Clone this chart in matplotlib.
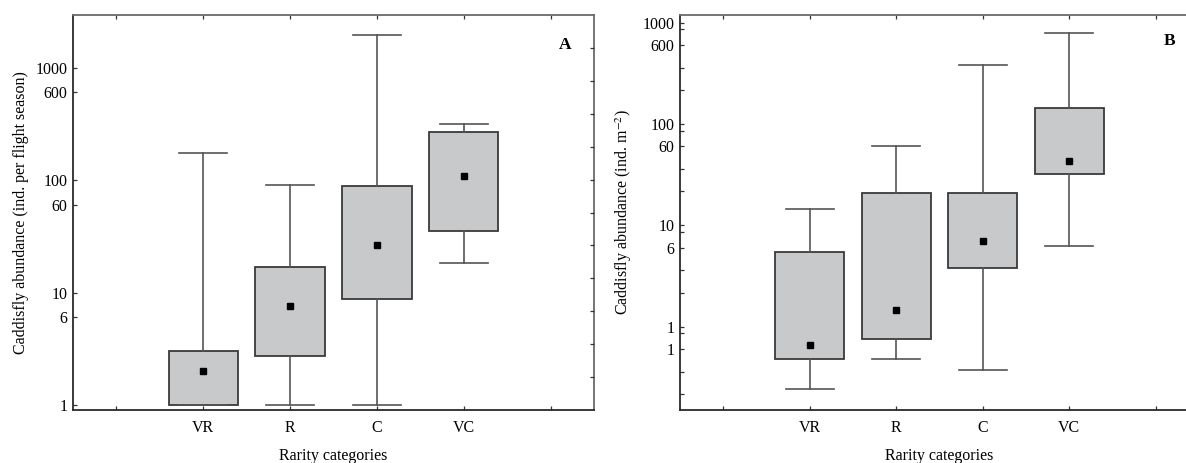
import matplotlib
matplotlib.use("Agg")
import matplotlib.pyplot as plt
from matplotlib.ticker import FixedLocator, NullLocator

plt.rcParams["font.family"] = ["Liberation Serif", "DejaVu Serif"]
plt.rcParams["mathtext.fontset"] = "stix"

CATEGORIES = ["VR", "R", "C", "VC"]

# panel A: ind. per flight season
A_WHISK_LO = [1.0, 1.0, 1.0, 18.3]
A_Q1 = [1.0, 2.74, 8.75, 35.0]
A_MID = [2.0, 7.6, 26.3, 109.0]
A_Q3 = [3.0, 17.0, 88.5, 267.0]
A_WHISK_HI = [173.0, 90.0, 1945.0, 313.0]

# panel B: ind. m-2
B_WHISK_LO = [0.241, 0.477, 0.374, 6.3]
B_Q1 = [0.477, 0.75, 3.77, 31.8]
B_MID = [0.66, 1.45, 7.0, 42.8]
B_Q3 = [5.42, 20.7, 20.7, 142.6]
B_WHISK_HI = [14.4, 60.5, 381.0, 794.0]

A_TICKS = [1000, 600, 100, 60, 10, 6, 1]
A_TICKLABELS = ["1000", "600", "100", "60", "10", "6", "1"]
B_TICKS = [1000, 600, 100, 60, 10, 6, 1, 0.6]
B_TICKLABELS = ["1000", "600", "100", "60", "10", "6", "1", "1"]
B_MINOR = [860, 360, 216, 86, 36, 21.6, 8.6, 3.6, 2.16, 0.86, 0.36, 0.216]

FS = 11.5
BOX_FACE = "#c8c9cb"
EDGE = "#3a3a3a"
WHISK = "#555555"


def make_stats(lo, q1, mid, q3, hi):
    stats = []
    for i in range(len(lo)):
        stats.append({"whislo": lo[i], "q1": q1[i], "med": mid[i],
                      "mean": mid[i], "q3": q3[i], "whishi": hi[i],
                      "fliers": []})
    return stats


def draw_panel(ax, stats, ylim, ticks, ticklabels, ylabel, letter,
               letter_xy, ylabel_x):
    ax.set_yscale("log")
    ax.bxp(stats, positions=[1, 2, 3, 4], widths=0.8, capwidths=0.55,
           showmeans=True, patch_artist=True,
           boxprops=dict(facecolor=BOX_FACE, edgecolor=EDGE, linewidth=1.3),
           whiskerprops=dict(color=WHISK, linewidth=1.2),
           capprops=dict(color=WHISK, linewidth=1.2),
           medianprops=dict(linewidth=0, color="none"),
           meanprops=dict(marker="s", markersize=3.8, markerfacecolor="black",
                          markeredgecolor="black"))
    ax.set_xlim(-0.5, 5.5)
    ax.set_ylim(*ylim)
    ax.set_xticks(range(6))
    ax.set_xticklabels([""] + CATEGORIES + [""], fontsize=FS)
    ax.yaxis.set_major_locator(FixedLocator(ticks))
    ax.set_yticklabels(ticklabels, fontsize=FS)
    ax.yaxis.set_minor_locator(NullLocator())
    ax.tick_params(axis="both", which="both", direction="in", length=3,
                   width=0.9, color="#333333")
    ax.tick_params(axis="x", top=True, pad=7)
    ax.tick_params(axis="y", pad=4)
    for side in ["left", "bottom"]:
        ax.spines[side].set_color("#2a2a2a")
        ax.spines[side].set_linewidth(1.3)
    for side in ["top", "right"]:
        ax.spines[side].set_color("#6a6a6a")
        ax.spines[side].set_linewidth(1.3)
    ax.set_xlabel("Rarity categories", fontsize=FS)
    ax.xaxis.set_label_coords(0.5, -0.097)
    ax.set_ylabel(ylabel, fontsize=FS)
    ax.yaxis.set_label_coords(ylabel_x, 0.5)
    ax.text(letter_xy[0], letter_xy[1], letter, transform=ax.transAxes,
            fontsize=12.5, fontweight="bold", ha="center", va="center")


fig = plt.figure(figsize=(11.86, 4.63), dpi=100)

ax1 = fig.add_axes([73 / 1186, 53 / 463, 521 / 1186, 395 / 463])
draw_panel(ax1, make_stats(A_WHISK_LO, A_Q1, A_MID, A_Q3, A_WHISK_HI),
           (0.903, 2930), A_TICKS, A_TICKLABELS,
           "Caddisfly abundance (ind. per flight season)", "A",
           (0.945, 0.925), -0.085)
# evenly spaced ticks on the right spine
ax1r = ax1.twinx()
ax1r.set_ylim(0, 12)
ax1r.set_yticks(range(1, 12))
ax1r.set_yticklabels([])
ax1r.tick_params(axis="y", direction="in", length=3, width=0.9,
                 color="#333333")
for s in ax1r.spines.values():
    s.set_visible(False)

ax2 = fig.add_axes([680 / 1186, 53 / 463, 519 / 1186, 395 / 463])
draw_panel(ax2, make_stats(B_WHISK_LO, B_Q1, B_MID, B_Q3, B_WHISK_HI),
           (0.151, 1186), B_TICKS, B_TICKLABELS,
           "Caddisfly abundance (ind. m$^{-2}$)", "B",
           (0.943, 0.935), -0.088)
ax2.yaxis.set_minor_locator(FixedLocator(B_MINOR))
ax2.tick_params(axis="y", which="minor", direction="in", length=3,
                width=0.9, right=False)
ax2.tick_params(axis="y", which="major", right=False)

fig.savefig("out.png", dpi=100)
